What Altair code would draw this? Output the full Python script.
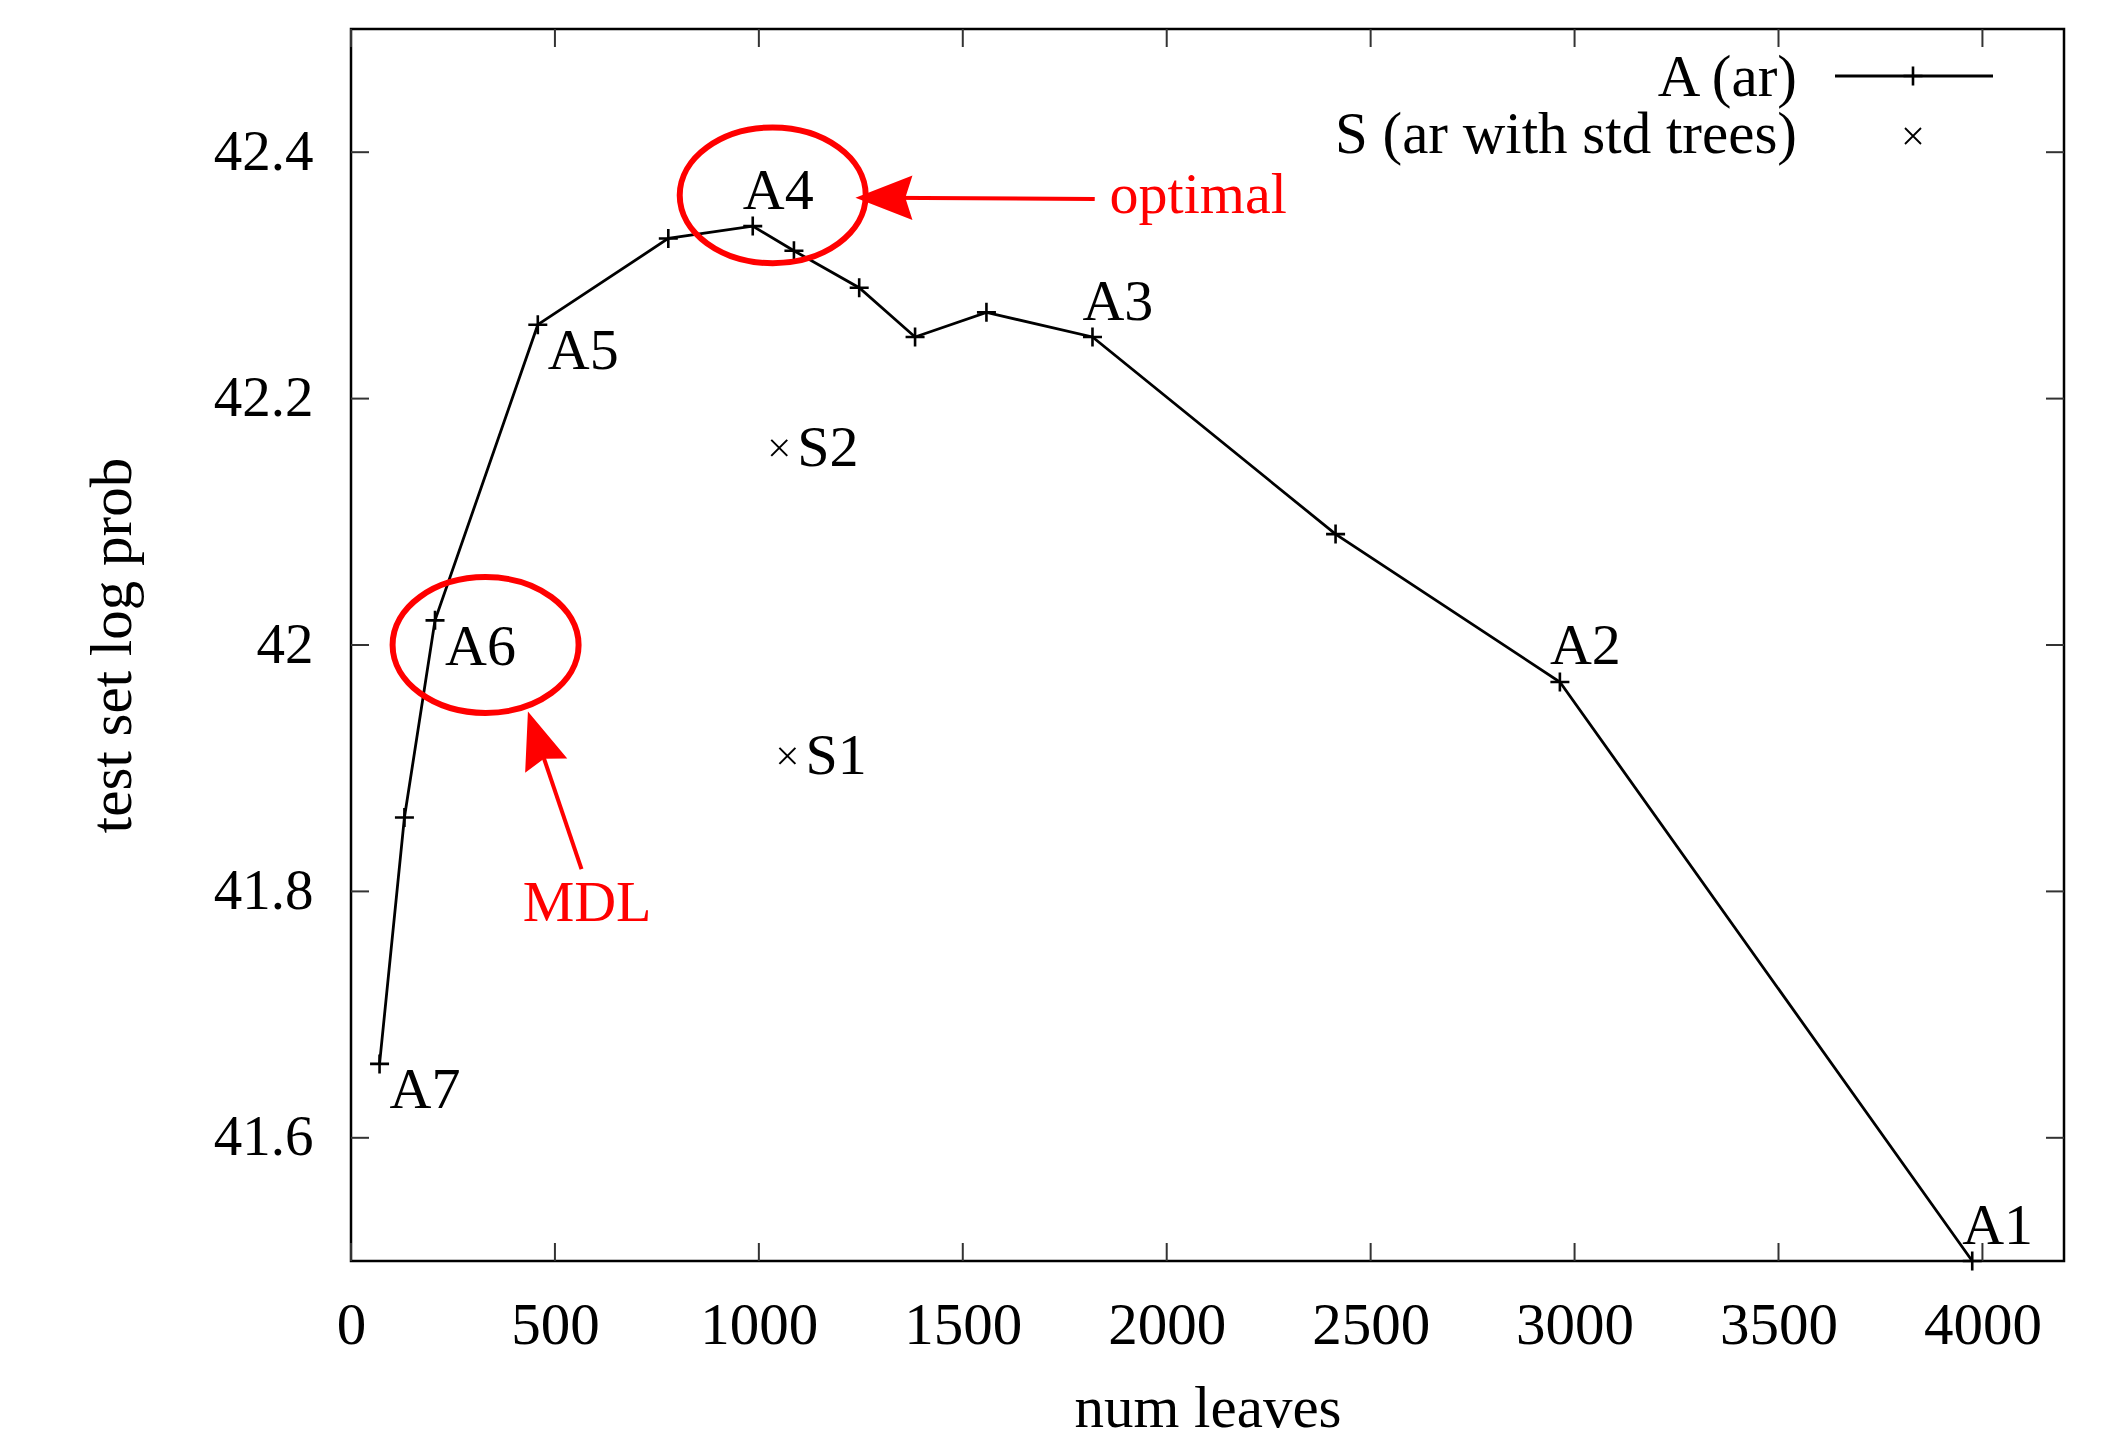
import altair as alt
import pandas as pd

# ---------------- data ----------------
a_leaves = [70, 131, 206, 458, 778, 985, 1086, 1246, 1383, 1558, 1818, 2414, 2964, 3975]
a_logprob = [41.66, 41.86, 42.02, 42.26, 42.33, 42.34, 42.32, 42.29, 42.25, 42.27, 42.25, 42.09, 41.97, 41.50]
a_names = ["A7", "", "A6", "A5", "", "A4", "", "", "", "", "A3", "", "A2", "A1"]
a_side = ["below", "", "below", "below", "", "above", "", "", "", "", "above", "", "above", "above"]

s_leaves = [1050, 1070]
s_logprob = [42.16, 41.91]
s_names = ["S2", "S1"]

x_ticks = [0, 500, 1000, 1500, 2000, 2500, 3000, 3500, 4000]
y_ticks = [41.6, 41.8, 42.0, 42.2, 42.4]

# annotations (red)
ring_x = [1034, 330]
ring_y = [42.365, 42.0]
arrow_tail_x = [1823.5, 565.2]
arrow_tail_y = [42.362, 41.818]
arrow_shaft_end_x = [1290, 449.5]
arrow_shaft_end_y = [42.363, 41.931]
arrow_tip_x = [1236.8, 433.8]
arrow_tip_y = [42.363, 41.946]
arrow_angle = [0, 71.3]
note_text = ["optimal", "MDL"]
note_x = [1860, 420.8]
note_y = [42.351, 41.776]

# ---------------- styling ----------------
FONT = "Liberation Serif"
FS = 57
FS_BIG = 59
W, H = 1713, 1232
RED = "#ff0000"

xscale = alt.Scale(domain=[0, 4200], nice=False, zero=False)
yscale = alt.Scale(domain=[41.5, 42.5], nice=False, zero=False)


def X(field="x"):
    return alt.X(f"{field}:Q", scale=xscale,
                 axis=alt.Axis(values=x_ticks, format="d", title="num leaves",
                               titleBaseline="alphabetic", titleY=165, titleX=W / 2))


def Y(field="y"):
    return alt.Y(f"{field}:Q", scale=yscale,
                 axis=alt.Axis(values=y_ticks, format="~g", title="test set log prob",
                               titleAngle=270, titleBaseline="alphabetic",
                               titleX=-221, titleY=H / 2, titleAlign="center"))


df_a = pd.DataFrame({"x": a_leaves, "y": a_logprob, "name": a_names, "side": a_side})
df_s = pd.DataFrame({"x": s_leaves, "y": s_logprob, "name": s_names})
df_xt = pd.DataFrame({"x": x_ticks})
df_yt = pd.DataFrame({"y": y_ticks})
df_ring = pd.DataFrame({"x": ring_x, "y": ring_y})
df_arrow = pd.DataFrame({"x": arrow_tail_x, "y": arrow_tail_y,
                         "x2": arrow_shaft_end_x, "y2": arrow_shaft_end_y})
df_head = pd.DataFrame({"x": arrow_tip_x, "y": arrow_tip_y, "angle": arrow_angle})
df_note = pd.DataFrame({"x": note_x, "y": note_y, "text": note_text})
one = pd.DataFrame({"k": [0]})

PLUS = "M-1,0L1,0M0,-1L0,1"
CROSS = "M-1,-1L1,1M-1,1L1,-1"
ELLIPSE = "M-1,0A1,0.73,0,1,0,1,0A1,0.73,0,1,0,-1,0Z"
HEAD = "M0,0L2,-0.78L1.75,0L2,0.78Z"

# inward ticks on all four sides
tick_col = "#333333"
tick_len = 18
xt_bottom = alt.Chart(df_xt).mark_rule(color=tick_col, strokeWidth=2).encode(
    x=X(), y=alt.value(H), y2=alt.value(H - tick_len))
xt_top = alt.Chart(df_xt).mark_rule(color=tick_col, strokeWidth=2).encode(
    x=X(), y=alt.value(0), y2=alt.value(tick_len))
yt_left = alt.Chart(df_yt).mark_rule(color=tick_col, strokeWidth=2).encode(
    y=Y(), x=alt.value(0), x2=alt.value(tick_len))
yt_right = alt.Chart(df_yt).mark_rule(color=tick_col, strokeWidth=2).encode(
    y=Y(), x=alt.value(W), x2=alt.value(W - tick_len))

# series A
line_a = alt.Chart(df_a).mark_line(color="black", strokeWidth=2.8).encode(x=X(), y=Y())
pts_a = alt.Chart(df_a).mark_point(shape=PLUS, size=361, filled=False, color="black",
                                   strokeWidth=2.6, opacity=1).encode(x=X(), y=Y())
lab_above = alt.Chart(df_a).transform_filter(alt.datum.side == "above").mark_text(
    font=FONT, fontSize=58, align="left", baseline="alphabetic", dx=-10, dy=-17.5,
    color="black").encode(x=X(), y=Y(), text="name:N")
lab_below = alt.Chart(df_a).transform_filter(alt.datum.side == "below").mark_text(
    font=FONT, fontSize=58, align="left", baseline="alphabetic", dx=10, dy=44.5,
    color="black").encode(x=X(), y=Y(), text="name:N")

# series S
pts_s = alt.Chart(df_s).mark_point(shape=CROSS, size=256, filled=False, color="black",
                                   strokeWidth=2, opacity=1).encode(x=X(), y=Y())
lab_s = alt.Chart(df_s).mark_text(
    font=FONT, fontSize=58, align="left", baseline="alphabetic", dx=18, dy=18.5,
    color="black").encode(x=X(), y=Y(), text="name:N")

# red annotations
rings = alt.Chart(df_ring).mark_point(shape=ELLIPSE, size=34596, filled=False, color=RED,
                                      strokeWidth=6, opacity=1).encode(x=X(), y=Y())
shafts = alt.Chart(df_arrow).mark_rule(color=RED, strokeWidth=4).encode(
    x=X(), y=Y(), x2="x2:Q", y2="y2:Q")
heads = alt.Chart(df_head).mark_point(shape=HEAD, size=3250, filled=True, color=RED,
                                      opacity=1, strokeWidth=0).encode(
    x=X(), y=Y(), angle=alt.Angle("angle:Q", scale=None))
notes = alt.Chart(df_note).mark_text(font=FONT, fontSize=58, align="left",
                                     baseline="alphabetic", color=RED).encode(
    x=X(), y=Y(), text="text:N")

# legend (gnuplot style: text right-aligned, sample to the right)
leg_t1 = alt.Chart(one).mark_text(text="A (ar)", font=FONT, fontSize=FS_BIG, align="right",
                                  baseline="alphabetic", color="black").encode(
    x=alt.value(1446), y=alt.value(67))
leg_t2 = alt.Chart(one).mark_text(text="S (ar with std trees)", font=FONT, fontSize=FS_BIG,
                                  align="right", baseline="alphabetic", color="black").encode(
    x=alt.value(1446), y=alt.value(124))
leg_line = alt.Chart(one).mark_rule(color="black", strokeWidth=2.8).encode(
    x=alt.value(1484), x2=alt.value(1642), y=alt.value(47))
leg_plus = alt.Chart(one).mark_point(shape=PLUS, size=361, filled=False, color="black",
                                     strokeWidth=2.6, opacity=1).encode(
    x=alt.value(1562), y=alt.value(47))
leg_cross = alt.Chart(one).mark_point(shape=CROSS, size=256, filled=False, color="black",
                                      strokeWidth=1.8, opacity=1).encode(
    x=alt.value(1562), y=alt.value(107))

chart = alt.layer(
    xt_bottom, xt_top, yt_left, yt_right,
    line_a, pts_a, lab_above, lab_below,
    pts_s, lab_s,
    rings, shafts, heads, notes,
    leg_t1, leg_t2, leg_line, leg_plus, leg_cross,
).properties(
    width=W, height=H,
    autosize=alt.AutoSizeParams(type="none"),
    padding={"left": 343, "top": 21, "right": 30, "bottom": 182},
    background="white",
).configure_view(
    stroke="black", strokeWidth=2.5
).configure_axis(
    domain=False, ticks=False, tickSize=0, grid=False, labelFlush=False,
    labelFont=FONT, labelColor="black",
    titleFont=FONT, titleFontSize=FS_BIG, titleFontWeight="normal", titleColor="black",
).configure_axisX(
    labelPadding=35, labelFontSize=FS_BIG
).configure_axisY(
    labelPadding=38, labelFontSize=FS
)

chart.save("out.html", embed_options={"renderer": "svg", "actions": False})
